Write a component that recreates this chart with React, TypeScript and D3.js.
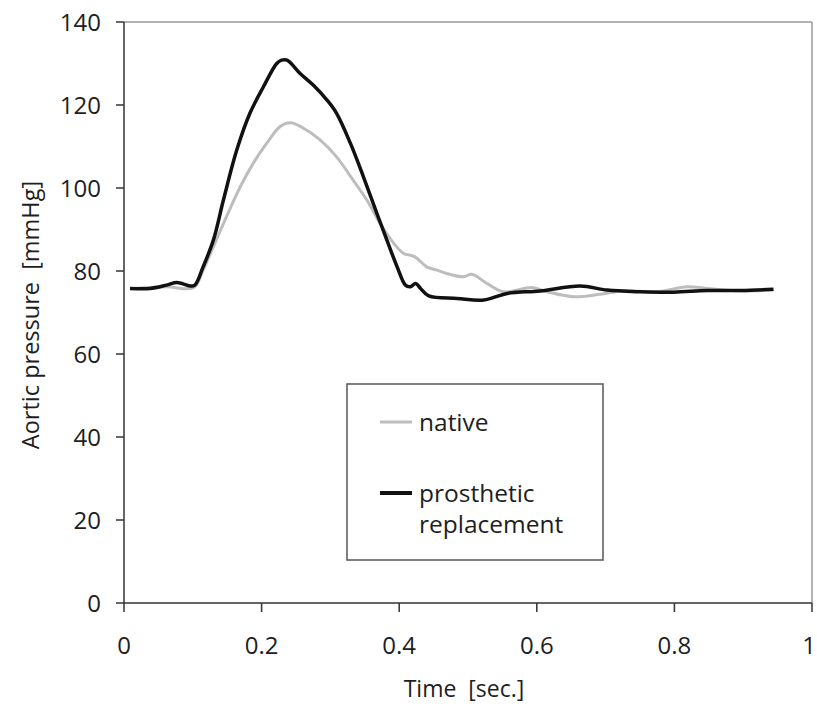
import React from "react";
import * as d3 from "d3";

const nativeT = [0.0136, 0.062, 0.101, 0.115, 0.13, 0.149, 0.169, 0.188, 0.2075, 0.227, 0.2415, 0.261, 0.285, 0.309, 0.333, 0.353, 0.372, 0.392, 0.406, 0.423, 0.44, 0.455, 0.469, 0.4935, 0.5055, 0.5276, 0.552, 0.593, 0.615, 0.654, 0.692, 0.726, 0.775, 0.818, 0.847, 0.896, 0.944];
const nativeV = [75.8, 76.2, 76.0, 80.2, 85.9, 93.1, 100.3, 106, 110.8, 114.8, 115.7, 114.4, 111.6, 107.5, 101.9, 97.1, 91.5, 86.7, 84.3, 83.4, 81, 80.2, 79.4, 78.6, 79.2, 77, 75, 76, 75, 73.8, 74.4, 75.2, 75, 76.2, 75.8, 75.2, 75.4];

const prostheticT = [0.0087, 0.038, 0.062, 0.077, 0.096, 0.103, 0.115, 0.13, 0.1445, 0.164, 0.183, 0.2027, 0.222, 0.229, 0.237, 0.256, 0.275, 0.295, 0.309, 0.329, 0.348, 0.3675, 0.382, 0.397, 0.409, 0.416, 0.424, 0.431, 0.443, 0.484, 0.523, 0.557, 0.605, 0.663, 0.702, 0.7505, 0.799, 0.8476, 0.896, 0.944];
const prostheticV = [75.8, 75.8, 76.6, 77.2, 76.4, 76.6, 81, 87.5, 97.1, 109.2, 118, 124.4, 130, 130.8, 130.8, 127.6, 124.8, 121.2, 118, 110.8, 102.7, 93.9, 87.5, 81, 76.6, 76.2, 77, 75.8, 74, 73.4, 73, 74.6, 75.2, 76.4, 75.4, 75, 74.9, 75.3, 75.3, 75.6];

const xTicks = [0, 0.2, 0.4, 0.6, 0.8, 1];
const yTicks = [0, 20, 40, 60, 80, 100, 120, 140];
const xTickLabels = ["0", "0.2", "0.4", "0.6", "0.8", "1"];

const seriesNames = ["native", "prosthetic replacement"];

export default function App() {
  const left = 124, right = 812, top = 22, bottom = 603;
  const x = d3.scaleLinear().domain([0, 1]).range([left, right]);
  const y = d3.scaleLinear().domain([0, 140]).range([bottom, top]);
  const line = d3.line<[number, number]>().x(d => x(d[0])).y(d => y(d[1])).curve(d3.curveCatmullRom.alpha(0.5));
  const nat = nativeT.map((t, i) => [t, nativeV[i]] as [number, number]);
  const pro = prostheticT.map((t, i) => [t, prostheticV[i]] as [number, number]);
  const font = "'Open Sans', sans-serif";
  const axisColor = "#333";
  const txt = "#1e1e1e";
  return (
    <svg width={817} height={704} style={{ position: "absolute", left: 0, top: 0, background: "#fff" }}>
      <line x1={left} x2={right} y1={top} y2={top} stroke="#999" strokeWidth={1.5} />
      <line x1={right} x2={right} y1={top} y2={bottom} stroke="#999" strokeWidth={1.5} />
      <line x1={left} x2={left} y1={top} y2={bottom} stroke={axisColor} strokeWidth={1.5} />
      <line x1={left} x2={right} y1={bottom} y2={bottom} stroke={axisColor} strokeWidth={1.5} />
      {yTicks.map(v => (
        <g key={"y" + v}>
          <line x1={left - 8} x2={left} y1={y(v)} y2={y(v)} stroke={axisColor} strokeWidth={1.5} />
          <text x={101} y={y(v)} dy="0.36em" textAnchor="end" fontFamily={font} fontSize={24} fill={txt}>{v}</text>
        </g>
      ))}
      {xTicks.map((v, i) => (
        <g key={"x" + v}>
          <line x1={x(v)} x2={x(v)} y1={bottom} y2={bottom + 9} stroke={axisColor} strokeWidth={1.5} />
          <text x={i === xTicks.length - 1 ? x(v) - 3 : x(v)} y={654} textAnchor="middle" fontFamily={font} fontSize={24} fill={txt}>{xTickLabels[i]}</text>
        </g>
      ))}
      <text x={464} y={697} textAnchor="middle" fontFamily={font} fontSize={23} fill={txt} style={{ whiteSpace: "pre" }}>{"Time  [sec.]"}</text>
      <text transform={`translate(39,315) rotate(-90)`} textAnchor="middle" fontFamily={font} fontSize={23.5} fill={txt} style={{ whiteSpace: "pre" }}>{"Aortic pressure  [mmHg]"}</text>
      <path d={line(nat) || ""} fill="none" stroke="#bdbdbd" strokeWidth={3} strokeLinejoin="round" />
      <path d={line(pro) || ""} fill="none" stroke="#111" strokeWidth={3.5} strokeLinejoin="round" />
      <rect x={347} y={384} width={256} height={176} fill="#fff" stroke="#555" strokeWidth={1.5} />
      <line x1={380} x2={412} y1={422} y2={422} stroke="#bdbdbd" strokeWidth={3} />
      <text x={419} y={431} fontFamily={font} fontSize={24.5} fill={txt}>{seriesNames[0]}</text>
      <line x1={380} x2={412} y1={493} y2={493} stroke="#111" strokeWidth={4} />
      <text x={419} y={502} fontFamily={font} fontSize={24.5} fill={txt}>prosthetic</text>
      <text x={419} y={533} fontFamily={font} fontSize={24.5} fill={txt}>replacement</text>
    </svg>
  );
}
